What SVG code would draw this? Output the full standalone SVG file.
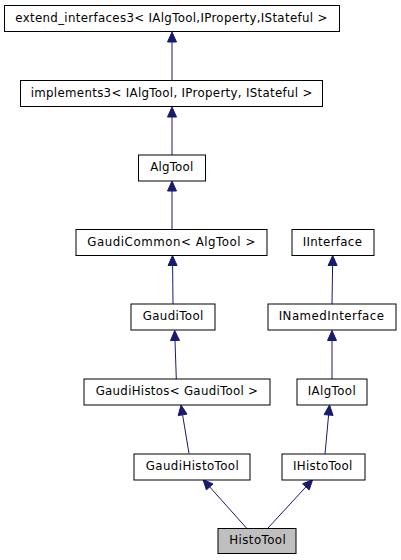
<svg xmlns="http://www.w3.org/2000/svg" width="401" height="560" viewBox="0 0 401 560">
<style>
.n rect{fill:#ffffff;stroke:#000000;stroke-width:1}
.n.h rect{fill:#bfbfbf}
.n text{font-family:"DejaVu Sans",sans-serif;font-size:11.8px;text-anchor:middle;fill:#000000}
.e line{stroke:#191970;stroke-width:1}
.e polygon{fill:#191970;stroke:#191970;stroke-width:1}
</style>
<rect x="0" y="0" width="401" height="560" fill="#ffffff"/>
<g id="edges" class="e">
<line x1="172" y1="80.5" x2="172" y2="42"/><polygon points="167.5,42 176.5,42 172,32"/>
<line x1="172" y1="155" x2="172" y2="117"/><polygon points="167.5,117 176.5,117 172,107"/>
<line x1="172" y1="229.5" x2="172" y2="191"/><polygon points="167.5,191 176.5,191 172,181"/>
<line x1="173" y1="304" x2="172.6" y2="265.5"/><polygon points="168.1,265.5 177.1,265.5 172.5,255.5"/>
<line x1="332" y1="304" x2="332.6" y2="265.5"/><polygon points="328.1,265.5 337.1,265.5 332.7,255.5"/>
<line x1="176.3" y1="379" x2="175" y2="340.5"/><polygon points="179.5,340.4 170.5,340.6 174.7,330.5"/>
<line x1="332" y1="379" x2="332" y2="340.5"/><polygon points="327.5,340.5 336.5,340.5 332,330.5"/>
<line x1="189" y1="453.5" x2="182.6" y2="414.9"/><polygon points="187,414.1 178.2,415.6 181,405"/>
<line x1="325" y1="454" x2="328.6" y2="415"/><polygon points="333.1,415.4 324.1,414.6 329.5,405"/>
<line x1="246.7" y1="528.3" x2="209.7" y2="486.9"/><polygon points="213,483.9 206.4,489.9 203,479.5"/>
<line x1="267.7" y1="528.3" x2="305.9" y2="486.9"/><polygon points="309.2,489.9 302.6,483.8 312.7,479.5"/>
</g>
<g id="node_extend" class="n"><rect x="4.5" y="5.5" width="335" height="26"/><text x="171.3" y="21.8" textLength="312" lengthAdjust="spacing">extend_interfaces3&lt; IAlgTool,IProperty,IStateful &gt;</text></g>
<g id="node_implements" class="n"><rect x="20.5" y="80.5" width="302" height="26"/><text x="171.5" y="96.8" textLength="281.7" lengthAdjust="spacing">implements3&lt; IAlgTool, IProperty, IStateful &gt;</text></g>
<g id="node_AlgTool" class="n"><rect x="138.5" y="155" width="67" height="26"/><text x="171.7" y="171" textLength="43" lengthAdjust="spacing">AlgTool</text></g>
<g id="node_GaudiCommon" class="n"><rect x="76" y="229.5" width="191" height="26"/><text x="171.3" y="245.6" textLength="168" lengthAdjust="spacing">GaudiCommon&lt; AlgTool &gt;</text></g>
<g id="node_IInterface" class="n"><rect x="292" y="229.5" width="82" height="26"/><text x="332.3" y="245.6" textLength="59.3" lengthAdjust="spacing">IInterface</text></g>
<g id="node_GaudiTool" class="n"><rect x="131" y="304" width="84" height="26"/><text x="173" y="320.1" textLength="60.7" lengthAdjust="spacing">GaudiTool</text></g>
<g id="node_INamedInterface" class="n"><rect x="268" y="304" width="128" height="26"/><text x="331.3" y="320.1" textLength="105.3" lengthAdjust="spacing">INamedInterface</text></g>
<g id="node_GaudiHistos" class="n"><rect x="84" y="379" width="186" height="26"/><text x="176.8" y="395.1" textLength="162.3" lengthAdjust="spacing">GaudiHistos&lt; GaudiTool &gt;</text></g>
<g id="node_IAlgTool" class="n"><rect x="297" y="379" width="70" height="26"/><text x="331.7" y="395.1" textLength="48" lengthAdjust="spacing">IAlgTool</text></g>
<g id="node_GaudiHistoTool" class="n"><rect x="134" y="454" width="116" height="26"/><text x="192.2" y="470.1" textLength="93" lengthAdjust="spacing">GaudiHistoTool</text></g>
<g id="node_IHistoTool" class="n"><rect x="282" y="454" width="83" height="26"/><text x="322.7" y="470.1" textLength="59.3" lengthAdjust="spacing">IHistoTool</text></g>
<g id="node_HistoTool" class="n h"><rect x="218" y="528.5" width="78" height="25"/><text x="257.5" y="544.4" textLength="56.4" lengthAdjust="spacing">HistoTool</text></g>
</svg>
